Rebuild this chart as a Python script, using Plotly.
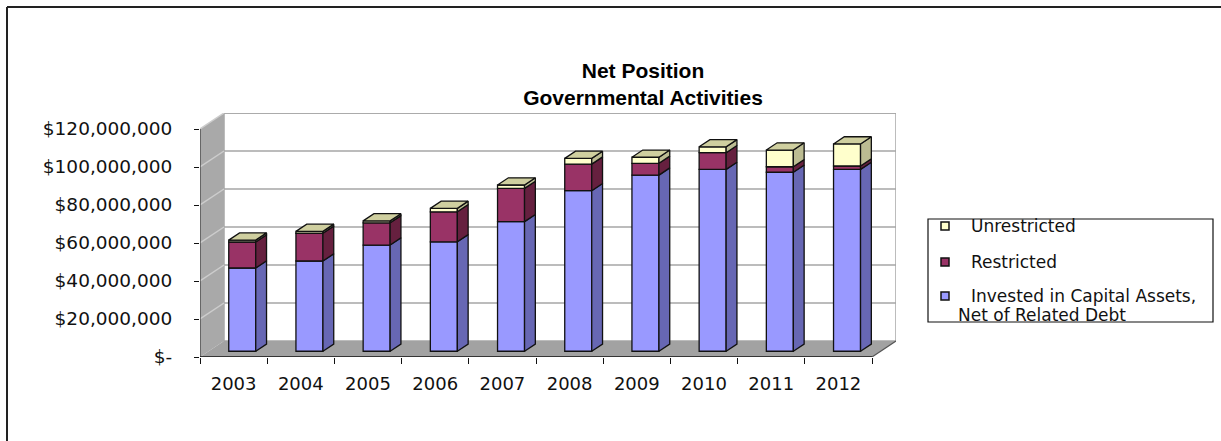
import plotly.graph_objects as go

# ---- data (US dollars) ----
years = ["2003", "2004", "2005", "2006", "2007", "2008", "2009", "2010", "2011", "2012"]
invested = [43_800_000, 47_500_000, 55_900_000, 57_600_000, 68_200_000,
            84_500_000, 92_700_000, 95_700_000, 94_200_000, 95_700_000]
restricted = [13_700_000, 14_600_000, 11_700_000, 15_800_000, 17_500_000,
              14_000_000, 6_200_000, 8_800_000, 2_900_000, 1_800_000]
unrestricted = [1_000_000, 1_000_000, 1_000_000, 1_800_000, 1_800_000,
                3_000_000, 3_200_000, 3_100_000, 8_800_000, 11_600_000]

y_tickvals = [0, 20_000_000, 40_000_000, 60_000_000, 80_000_000, 100_000_000, 120_000_000]
y_ticktext = ["$-", "$20,000,000", "$40,000,000", "$60,000,000",
              "$80,000,000", "$100,000,000", "$120,000,000"]

series = [
    # name, values, front, side, top
    ("Invested in Capital Assets, Net of Related Debt", invested, "#9999ff", "#6767b4", "#7d7dd6"),
    ("Restricted", restricted, "#993366", "#66203f", "#7a2a52"),
    ("Unrestricted", unrestricted, "#ffffcc", "#bcbc92", "#cfcf9f"),
]

# ---- page geometry (pixels) ----
W, H = 1221, 441
PL, PR, PT, PB = 200, 896, 113, 357          # plot area edges
X0, X1 = -0.5, 9.5                           # front floor edge, category units
KX = (872 - PL) / (X1 - X0)                  # px per category
KY = 228 / 120_000_000                       # px per dollar
XMAX = X0 + (PR - PL) / KX
YMAX = (PB - PT) / KY

DX = 24 / KX                                 # full depth of the box (x units)
DY = 16 / KY                                 # full depth of the box (y units)
F0 = 0.36                                    # depth of the bar front faces
BD = 0.45                                    # bar depth, fraction of box depth
BAR_W = 27 / KX
YTOP = y_tickvals[-1]

FONT = "DejaVu Sans"
EDGE = dict(color="#111111", width=1.3)

fig = go.Figure()

# ---- bars: front faces as stacked bars, plus side and top faces ----
n = len(years)
xc = [i + F0 * DX for i in range(n)]
cum = [F0 * DY] * n
tops = [None] * n
side_paths = {}
for name, vals, front, side, top in series:
    fig.add_trace(go.Bar(
        x=xc, y=vals, base=list(cum), width=BAR_W, name=name,
        marker=dict(color=front, line=EDGE),
        showlegend=False, hoverinfo="skip",
    ))
    sx, sy = [], []
    for i in range(n):
        b, t = cum[i], cum[i] + vals[i]
        xr = xc[i] + BAR_W / 2
        sx += [xr, xr + BD * DX, xr + BD * DX, xr, xr, None]
        sy += [b, b + BD * DY, t + BD * DY, t, b, None]
        if vals[i] > 0:
            tops[i] = top
        cum[i] = t
    side_paths[name] = (sx, sy, side)

for name, (sx, sy, side) in side_paths.items():
    fig.add_trace(go.Scatter(
        x=sx, y=sy, mode="lines", fill="toself", fillcolor=side,
        line=EDGE, showlegend=False, hoverinfo="skip",
    ))

for colour in sorted(set(tops)):
    tx, ty = [], []
    for i in range(n):
        if tops[i] != colour:
            continue
        xl, xr, T = xc[i] - BAR_W / 2, xc[i] + BAR_W / 2, cum[i]
        tx += [xl, xr, xr + BD * DX, xl + BD * DX, xl, None]
        ty += [T, T, T + BD * DY, T + BD * DY, T, None]
    fig.add_trace(go.Scatter(
        x=tx, y=ty, mode="lines", fill="toself", fillcolor=colour,
        line=EDGE, showlegend=False, hoverinfo="skip",
    ))

# ---- walls, floor and gridlines ----
def path(points):
    return "M " + " L ".join(f"{x},{y}" for x, y in points) + " Z"

shapes = []
shapes.append(dict(type="path", xref="x", yref="y", layer="below",
                   path=path([(X0 + DX, DY), (X1 + DX, DY), (X1 + DX, YTOP + DY), (X0 + DX, YTOP + DY)]),
                   fillcolor="white", line=dict(color="#a6a6a6", width=1.5)))
shapes.append(dict(type="path", xref="x", yref="y", layer="below",
                   path=path([(X0, 0), (X0 + DX, DY), (X0 + DX, YTOP + DY), (X0, YTOP)]),
                   fillcolor="#a9a9a9", line=dict(width=0)))
shapes.append(dict(type="path", xref="x", yref="y", layer="below",
                   path=path([(X0, 0), (X1, 0), (X1 + DX, DY), (X0 + DX, DY)]),
                   fillcolor="#a2a2a2", line=dict(width=0)))
for v in y_tickvals[1:]:
    shapes.append(dict(type="line", xref="x", yref="y", layer="below",
                       x0=X0 + DX, y0=v + DY, x1=X1 + DX, y1=v + DY,
                       line=dict(color="#a6a6a6", width=1.5)))
    shapes.append(dict(type="line", xref="x", yref="y", layer="below",
                       x0=X0, y0=v, x1=X0 + DX, y1=v + DY,
                       line=dict(color="#cdcdcd", width=1.5)))
# front edges of the box
shapes.append(dict(type="line", xref="x", yref="y", x0=X0, y0=0, x1=X0, y1=YTOP,
                   line=dict(color="#3a3a3a", width=1.2)))
shapes.append(dict(type="line", xref="x", yref="y", x0=X0, y0=0, x1=X1, y1=0,
                   line=dict(color="#111111", width=1.5)))
shapes.append(dict(type="line", xref="x", yref="y", x0=X1, y0=0, x1=X1 + DX, y1=DY,
                   line=dict(color="#555555", width=1.2)))


# ---- helpers for page-pixel placement ----
def pxx(px):
    return (px - PL) / (PR - PL)


def pxy(py):
    return (PB - py) / (PB - PT)


# outer frame
shapes.append(dict(type="line", xref="paper", yref="paper",
                   x0=pxx(7), y0=pxy(7), x1=pxx(W + 5), y1=pxy(7),
                   line=dict(color="#222222", width=2)))
shapes.append(dict(type="line", xref="paper", yref="paper",
                   x0=pxx(7), y0=pxy(7), x1=pxx(7), y1=pxy(H + 5),
                   line=dict(color="#222222", width=2)))

# legend box
shapes.append(dict(type="rect", xref="paper", yref="paper",
                   x0=pxx(928), y0=pxy(219), x1=pxx(1213), y1=pxy(322),
                   line=dict(color="#111111", width=1.2), fillcolor="white"))
legend_items = [("Unrestricted", "#ffffcc", 226),
                ("Restricted", "#993366", 262),
                ("Invested in Capital Assets,", "#9999ff", 296)]
annotations = []
for label, colour, cy in legend_items:
    shapes.append(dict(type="rect", xref="paper", yref="paper",
                       x0=pxx(941), y0=pxy(cy - 4), x1=pxx(949), y1=pxy(cy + 4),
                       line=dict(color="#111111", width=1.5), fillcolor=colour))
    annotations.append(dict(xref="paper", yref="paper", x=pxx(969), y=pxy(cy),
                            xanchor="left", yanchor="middle", showarrow=False,
                            text=label, font=dict(family=FONT, size=17, color="#111111")))
annotations.append(dict(xref="paper", yref="paper", x=pxx(956), y=pxy(315),
                        xanchor="left", yanchor="middle", showarrow=False,
                        text="Net of Related Debt", font=dict(family=FONT, size=17, color="#111111")))

fig.update_layout(
    width=W, height=H,
    margin=dict(l=PL, r=W - PR, t=PT, b=H - PB, pad=0),
    paper_bgcolor="white", plot_bgcolor="white",
    barmode="overlay",
    showlegend=False,
    title=dict(text="<b>Net Position<br>Governmental Activities</b>",
               x=643 / W, xref="container", xanchor="center",
               y=1 - 78 / H, yref="container", yanchor="middle",
               font=dict(family="Liberation Sans", size=21, color="#000000")),
    xaxis=dict(range=[X0, XMAX], showgrid=False, zeroline=False, showline=False,
               tickmode="array", tickvals=list(range(n)), ticktext=years, ticks="",
               ticklabelstandoff=14,
               minor=dict(tickmode="array", tickvals=[i - 0.5 for i in range(n + 1)],
                          ticks="outside", ticklen=6, tickcolor="#111111", tickwidth=1.2,
                          showgrid=False),
               tickfont=dict(family=FONT, size=18, color="#111111"), fixedrange=True),
    yaxis=dict(range=[0, YMAX], showgrid=False, zeroline=False, showline=False,
               tickmode="array", tickvals=y_tickvals, ticktext=y_ticktext,
               ticks="outside", ticklen=5, tickcolor="#111111", tickwidth=1.2,
               ticklabelstandoff=18,
               tickfont=dict(family=FONT, size=18.5, color="#111111"), fixedrange=True),
    shapes=shapes,
    annotations=annotations,
)

fig.write_html("out.html")
